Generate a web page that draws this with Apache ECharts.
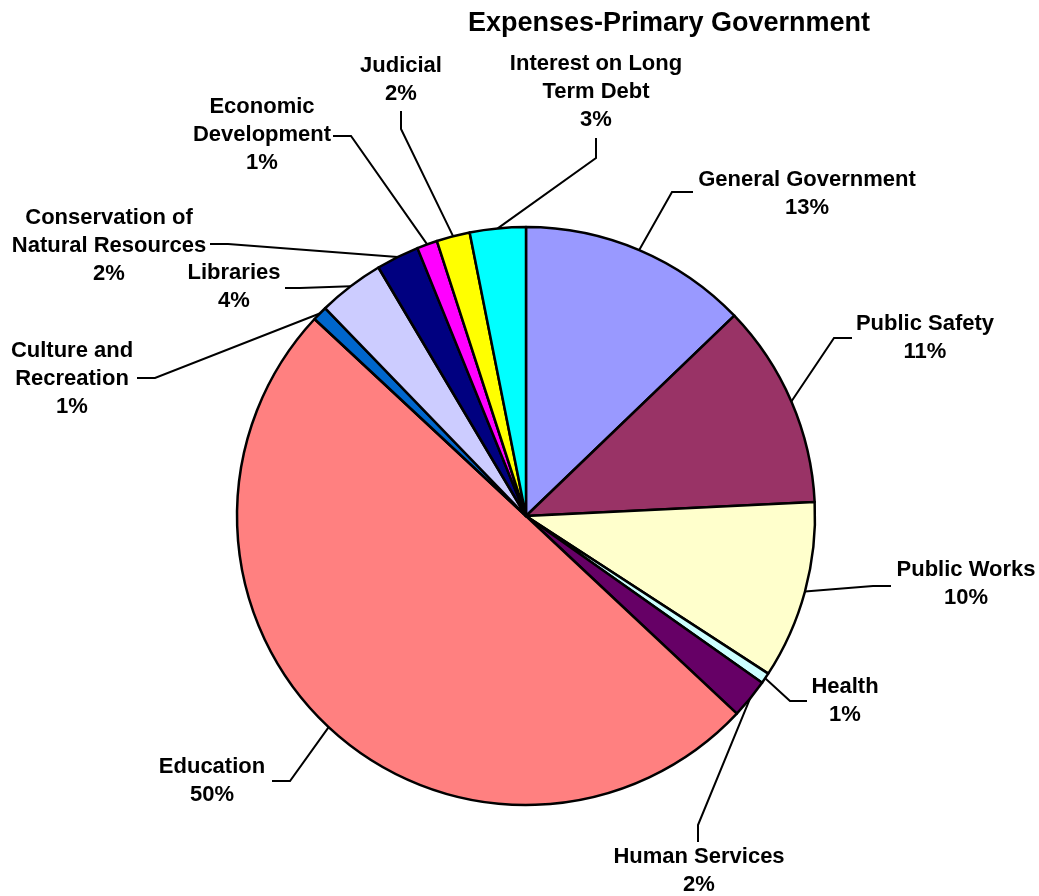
<!DOCTYPE html>
<html>
<head>
<meta charset="utf-8">
<script src="https://cdn.jsdelivr.net/npm/echarts@6/dist/echarts.min.js"></script>
<style>
html,body{margin:0;padding:0;background:#fff;}
#chart{width:1039px;height:896px;}
</style>
</head>
<body>
<div id="chart"></div>
<script>
// ---- data ----
var categories = ['General Government','Public Safety','Public Works','Health','Human Services','Education',
  'Culture and Recreation','Libraries','Conservation of Natural Resources','Economic Development','Judicial','Interest on Long Term Debt'];
var values = [12.8, 11.4, 9.95, 0.6, 2.2, 49.9, 0.83, 3.7, 2.4, 1.14, 1.86, 3.12];
var labelNames = ['General Government','Public Safety','Public Works','Health','Human Services','Education',
  'Culture and\nRecreation','Libraries','Conservation of\nNatural Resources','Economic\nDevelopment','Judicial','Interest on Long\nTerm Debt'];

// ---- styles / layout ----
var colors = ['#9999FF','#993366','#FFFFCC','#CCFFFF','#660066','#FF8080','#0066CC','#CCCCFF','#000080','#FF00FF','#FFFF00','#00FFFF'];
// label block center x,y ; elbow x,y ; line end x,y
var labelLayouts = [
  [807,194, 672,192, 693,192],
  [925,338, 834,338, 852,338],
  [966,584, 873,586, 891,586],
  [845,701, 790,701, 807,701],
  [699,871, 698,825, 698,842],
  [212,781, 290,781, 272,781],
  [72,379, 155,378, 137,378],
  [234,287, 300,288, 285,288],
  [109,246, 228,244, 210,244],
  [262,135, 351,136, 333,136],
  [401,80, 401,129, 401,111],
  [596,92, 596,158, 596,138]
];

var chart = echarts.init(document.getElementById('chart'), null, {renderer:'canvas'});
var FONT = '"Liberation Sans", Arial, sans-serif';
var data = categories.map(function(c,i){
  return {name:c, value:values[i], itemStyle:{color:colors[i]}};
});
chart.setOption({
  animation:false,
  backgroundColor:'#fff',
  title:{
    text:'Expenses-Primary Government',
    left:664, top:5, textAlign:'center',
    textStyle:{fontFamily:FONT, fontWeight:'bold', fontSize:27, color:'#000'}
  },
  series:[{
    type:'pie',
    center:[526,516],
    radius:289,
    startAngle:90,
    clockwise:true,
    avoidLabelOverlap:false,
    data:data,
    itemStyle:{borderColor:'#000', borderWidth:2.5},
    emphasis:{disabled:true},
    label:{
      show:true,
      position:'outside',
      fontFamily:FONT, fontWeight:'bold', fontSize:22, lineHeight:28, color:'#000',
      align:'center',
      formatter:function(p){ return labelNames[p.dataIndex] + '\n' + Math.round(p.percent) + '%'; }
    },
    labelLine:{show:true, length:10, length2:10, lineStyle:{color:'#000', width:2}},
    labelLayout:function(p){
      var L = labelLayouts[p.dataIndex];
      var s = p.labelLinePoints ? p.labelLinePoints[0] : [L[2],L[3]];
      return {
        x:L[0], y:L[1], align:'center', verticalAlign:'middle',
        labelLinePoints:[[s[0],s[1]],[L[2],L[3]],[L[4],L[5]]]
      };
    }
  }]
});
</script>
</body>
</html>
